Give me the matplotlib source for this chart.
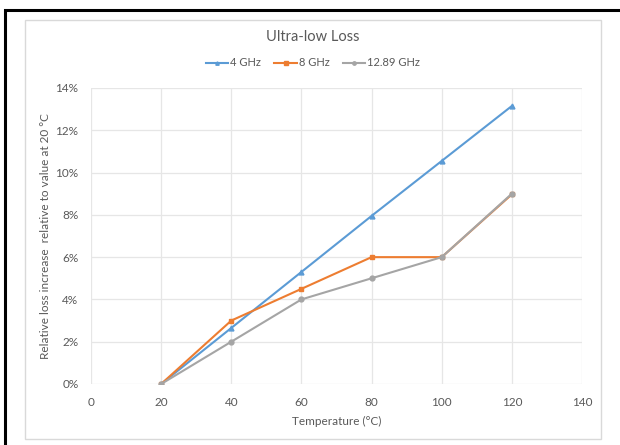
import matplotlib
matplotlib.use("Agg")
import matplotlib.pyplot as plt
from matplotlib.patches import Rectangle
from matplotlib.ticker import PercentFormatter, MultipleLocator

temps = [20, 40, 60, 80, 100, 120]
loss_4ghz = [0.0, 2.65, 5.3, 7.95, 10.55, 13.15]
loss_8ghz = [0.0, 3.0, 4.5, 6.0, 6.0, 8.97]
loss_1289ghz = [0.0, 2.0, 4.0, 5.0, 6.0, 9.0]
series_names = ["4 GHz", "8 GHz", "12.89 GHz"]

plt.rcParams['font.family'] = ['Lato', 'DejaVu Sans']
txt = '#595959'
W, H = 620, 445
fig = plt.figure(figsize=(6.2, 4.45), dpi=100)
fig.patch.set_facecolor('white')

def px_rect(x0, y0, x1, y1, **kw):
    return Rectangle((x0 / W, 1 - y1 / H), (x1 - x0) / W, (y1 - y0) / H,
                     transform=fig.transFigure, fill=False, **kw)

fig.patches.append(px_rect(5, 10, 660, 480, edgecolor='black', linewidth=2.2))
fig.patches.append(px_rect(25, 20, 601, 439, edgecolor='#d9d9d9', linewidth=1.0))

ax = fig.add_axes([91 / W, 1 - 384 / H, (582 - 91) / W, (384 - 88) / H])
ax.plot(temps, loss_4ghz, color='#5B9BD5', marker='^', markersize=3.5, linewidth=1.5, label=series_names[0])
ax.plot(temps, loss_8ghz, color='#ED7D31', marker='s', markersize=3.5, linewidth=1.5, label=series_names[1])
ax.plot(temps, loss_1289ghz, color='#A5A5A5', marker='o', markersize=3.5, linewidth=1.5, label=series_names[2])

ax.set_xlim(0, 140)
ax.set_ylim(0, 14)
ax.xaxis.set_major_locator(MultipleLocator(20))
ax.yaxis.set_major_locator(MultipleLocator(2))
ax.yaxis.set_major_formatter(PercentFormatter(decimals=0))
ax.grid(True, color='#e6e6e6', linewidth=0.9)
ax.set_axisbelow(True)
for s in ax.spines.values():
    s.set_visible(False)
ax.tick_params(length=0, labelsize=8.5, colors=txt, pad=9)

ax.set_xlabel('Temperature (°C)', fontsize=8.5, color=txt, labelpad=6)
ax.set_ylabel('Relative loss increase  relative to value at 20 °C', fontsize=8.5, color=txt, labelpad=3)

fig.text(313 / W, 1 - 37 / H, 'Ultra-low Loss', ha='center', va='center', fontsize=10.5, color=txt)
fig.legend(loc='center', bbox_to_anchor=(313 / W, 1 - 63 / H), ncol=3, frameon=False,
           fontsize=8, labelcolor=txt, handlelength=2.0, handletextpad=0.2, columnspacing=1.2,
           markerscale=0.7)

fig.savefig('out.png', dpi=100)
